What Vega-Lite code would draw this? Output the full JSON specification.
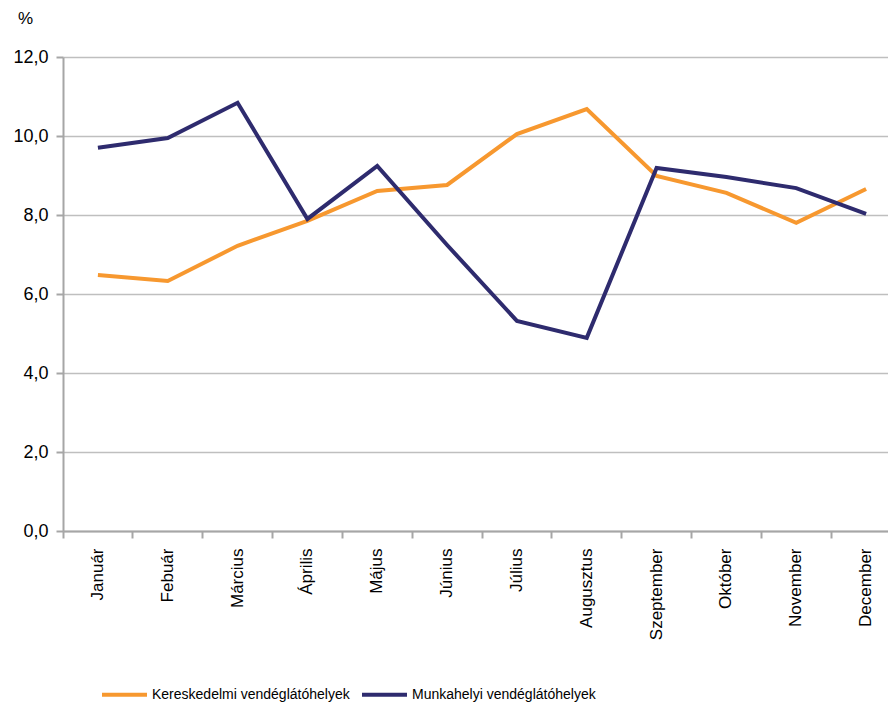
{
  "$schema": "https://vega.github.io/schema/vega-lite/v6.json",
  "width": 825,
  "height": 474,
  "autosize": "none",
  "padding": {"left": 63, "top": 57, "right": 0, "bottom": 177},
  "background": "white",
  "config": {
    "view": {"stroke": null},
    "font": "Liberation Sans, Arial, sans-serif"
  },
  "data": {
    "values": [
      {"month": "Január", "series": "Kereskedelmi vendéglátóhelyek", "value": 6.48},
      {"month": "Febuár", "series": "Kereskedelmi vendéglátóhelyek", "value": 6.33},
      {"month": "Március", "series": "Kereskedelmi vendéglátóhelyek", "value": 7.22},
      {"month": "Április", "series": "Kereskedelmi vendéglátóhelyek", "value": 7.85},
      {"month": "Május", "series": "Kereskedelmi vendéglátóhelyek", "value": 8.61},
      {"month": "Június", "series": "Kereskedelmi vendéglátóhelyek", "value": 8.76},
      {"month": "Július", "series": "Kereskedelmi vendéglátóhelyek", "value": 10.05},
      {"month": "Augusztus", "series": "Kereskedelmi vendéglátóhelyek", "value": 10.68},
      {"month": "Szeptember", "series": "Kereskedelmi vendéglátóhelyek", "value": 8.99},
      {"month": "Október", "series": "Kereskedelmi vendéglátóhelyek", "value": 8.56},
      {"month": "November", "series": "Kereskedelmi vendéglátóhelyek", "value": 7.8},
      {"month": "December", "series": "Kereskedelmi vendéglátóhelyek", "value": 8.66},
      {"month": "Január", "series": "Munkahelyi vendéglátóhelyek", "value": 9.7},
      {"month": "Febuár", "series": "Munkahelyi vendéglátóhelyek", "value": 9.95},
      {"month": "Március", "series": "Munkahelyi vendéglátóhelyek", "value": 10.84},
      {"month": "Április", "series": "Munkahelyi vendéglátóhelyek", "value": 7.9},
      {"month": "Május", "series": "Munkahelyi vendéglátóhelyek", "value": 9.24},
      {"month": "Június", "series": "Munkahelyi vendéglátóhelyek", "value": 7.24},
      {"month": "Július", "series": "Munkahelyi vendéglátóhelyek", "value": 5.32},
      {"month": "Augusztus", "series": "Munkahelyi vendéglátóhelyek", "value": 4.89},
      {"month": "Szeptember", "series": "Munkahelyi vendéglátóhelyek", "value": 9.19},
      {"month": "Október", "series": "Munkahelyi vendéglátóhelyek", "value": 8.96},
      {"month": "November", "series": "Munkahelyi vendéglátóhelyek", "value": 8.68},
      {"month": "December", "series": "Munkahelyi vendéglátóhelyek", "value": 8.03}
    ]
  },
  "mark": {"type": "line", "strokeWidth": 4, "strokeJoin": "miter", "clip": false},
  "encoding": {
    "x": {
      "field": "month",
      "type": "nominal",
      "sort": ["Január", "Febuár", "Március", "Április", "Május", "Június", "Július", "Augusztus", "Szeptember", "Október", "November", "December"],
      "scale": {"type": "band", "paddingInner": 0, "paddingOuter": 0, "range": [0, 838]},
      "axis": {
        "title": null,
        "bandPosition": 0,
        "labelAngle": -90,
        "labelAlign": "right",
        "labelBaseline": "middle",
        "labelPadding": 10,
        "labelFontSize": 17,
        "labelColor": "#000000",
        "domainColor": "#A6A6A6",
        "domainWidth": 2,
        "tickColor": "#A6A6A6",
        "tickWidth": 2,
        "tickSize": 7,
        "grid": false
      }
    },
    "y": {
      "field": "value",
      "type": "quantitative",
      "scale": {"domain": [0, 12], "nice": false, "zero": true},
      "axis": {
        "title": "%",
        "titleAngle": 0,
        "titleX": -38,
        "titleY": -30,
        "titleAlign": "center",
        "titleFontSize": 17,
        "titleFontWeight": "normal",
        "titleColor": "#000000",
        "values": [0, 2, 4, 6, 8, 10, 12],
        "labelExpr": "replace(format(datum.value, '.1f'), '.', ',')",
        "labelFontSize": 18,
        "labelColor": "#000000",
        "labelPadding": 8,
        "domainColor": "#A6A6A6",
        "domainWidth": 2,
        "tickColor": "#A6A6A6",
        "tickWidth": 2,
        "tickSize": 7,
        "grid": true,
        "gridColor": "#BFBFBF",
        "gridWidth": 1.5
      }
    },
    "color": {
      "field": "series",
      "type": "nominal",
      "scale": {
        "domain": ["Kereskedelmi vendéglátóhelyek", "Munkahelyi vendéglátóhelyek"],
        "range": ["#F7982F", "#2E2B6E"]
      },
      "legend": {
        "title": null,
        "orient": "none",
        "legendX": 37,
        "legendY": 613,
        "direction": "horizontal",
        "symbolType": "stroke",
        "symbolSize": 2025,
        "symbolStrokeWidth": 4,
        "labelFontSize": 14,
        "labelColor": "#000000",
        "labelOffset": 3,
        "columnPadding": 4,
        "labelLimit": 400
      }
    }
  }
}
